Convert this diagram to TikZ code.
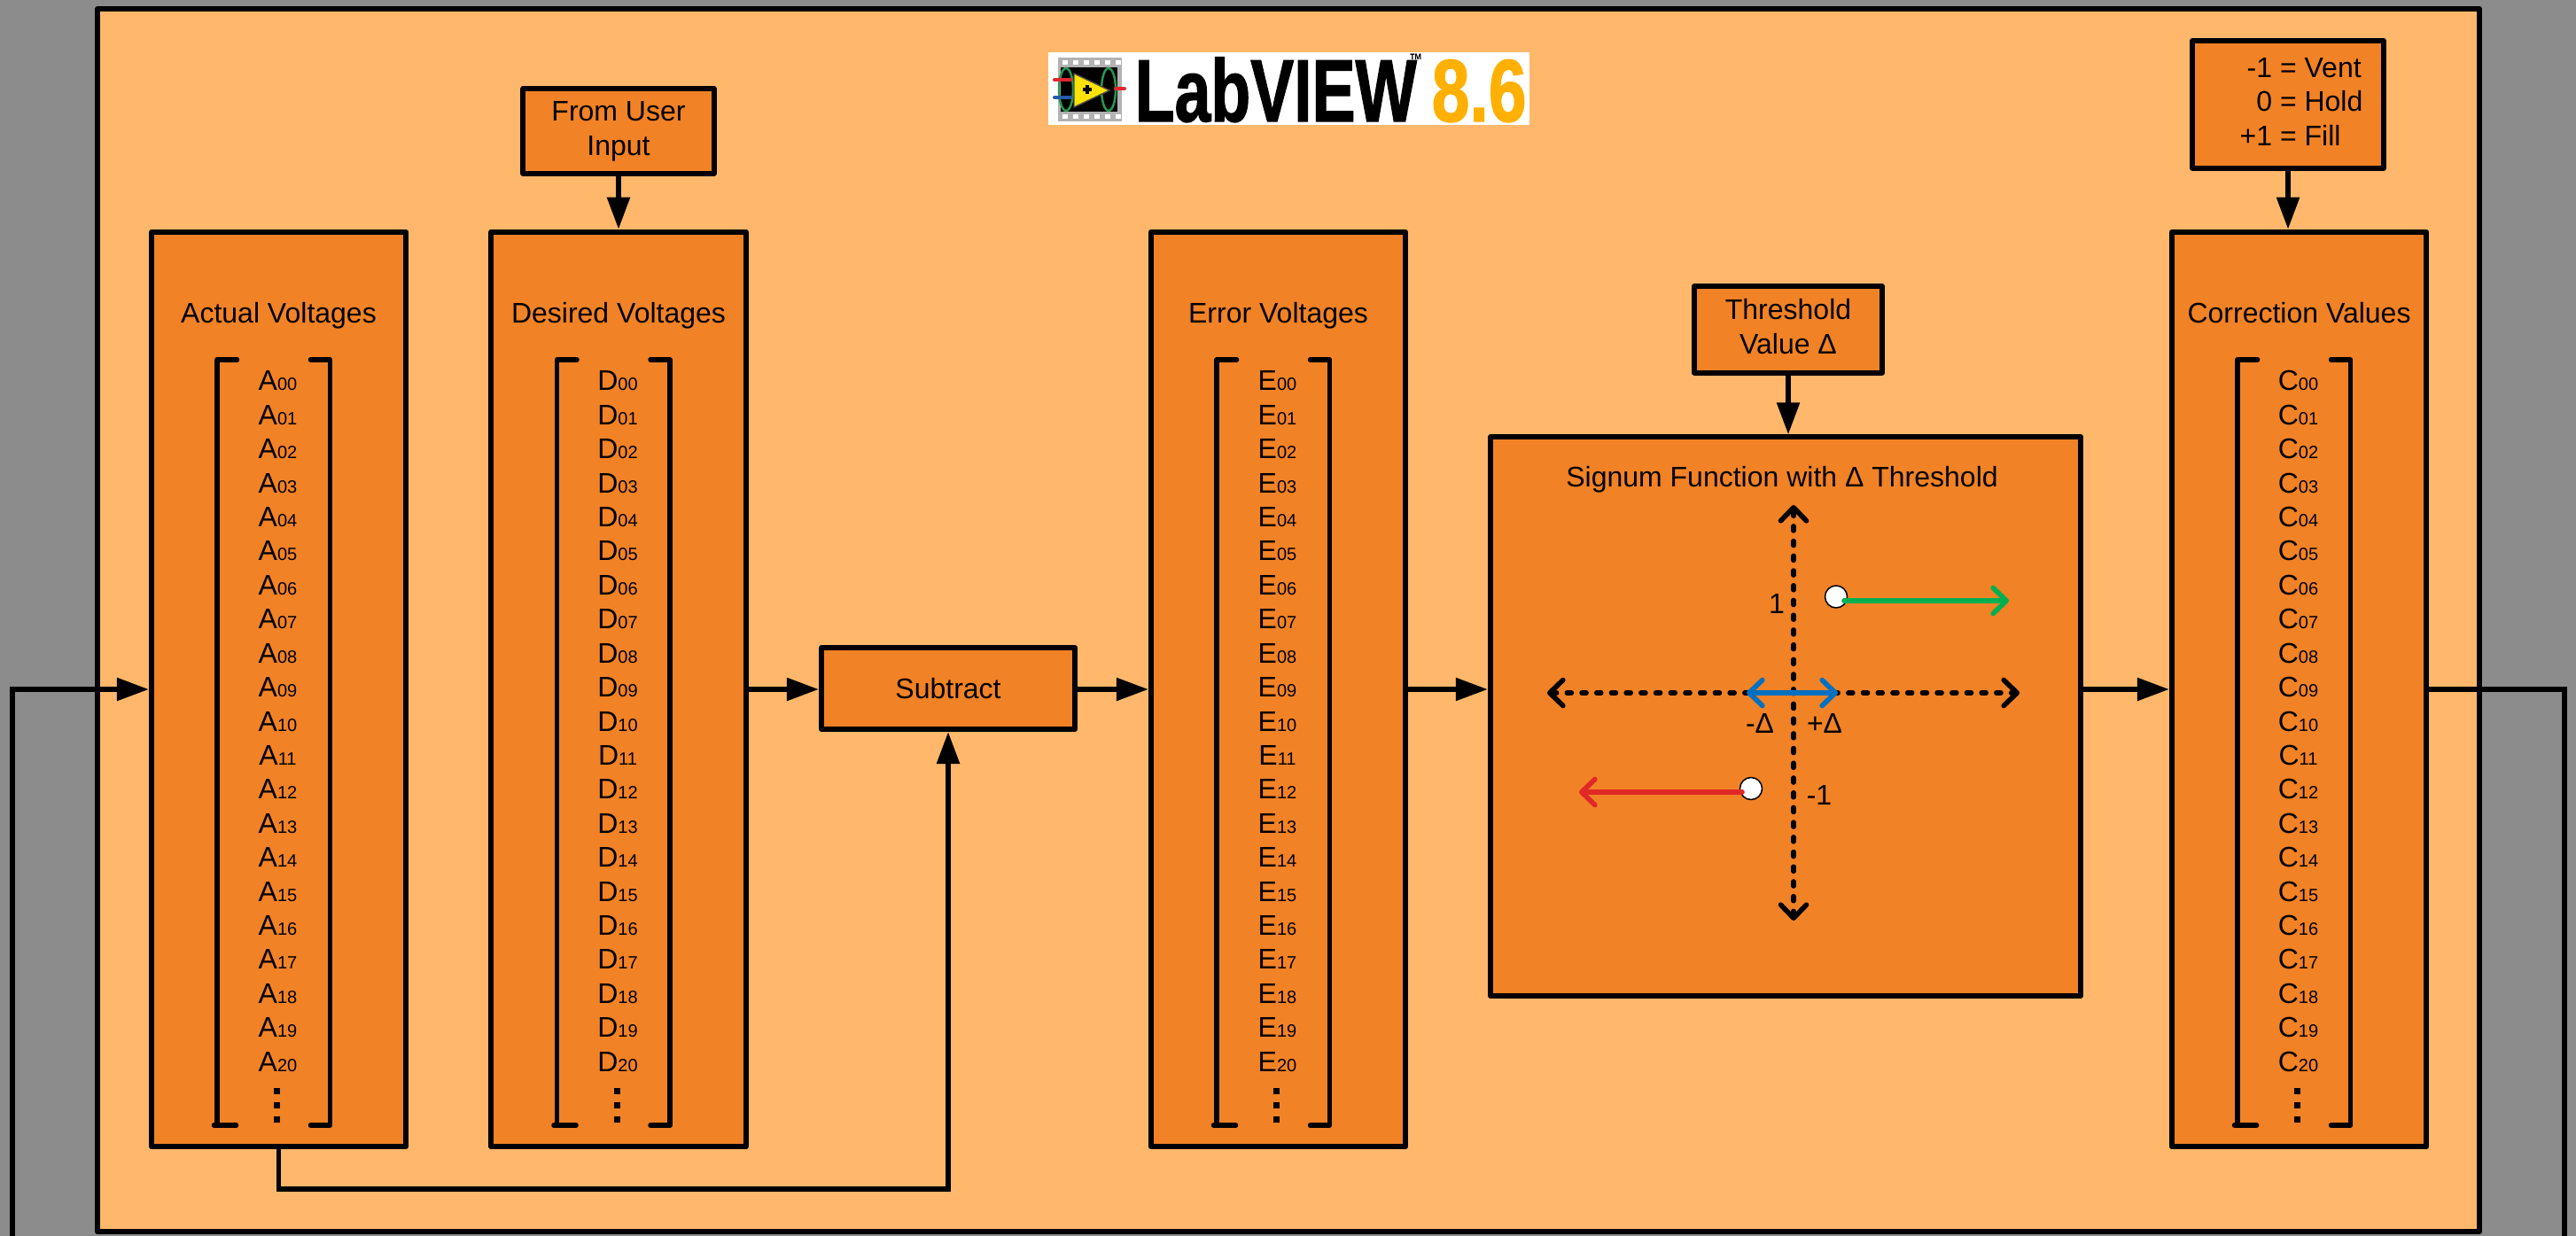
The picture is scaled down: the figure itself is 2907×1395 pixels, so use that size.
\documentclass[tikz,border=0pt]{standalone}
\usepackage{fontspec}
\setmainfont{Liberation Sans}
\newfontfamily\logofont[BoldFeatures={FakeBold=1.5}]{Liberation Sans}
\usetikzlibrary{arrows.meta}
\definecolor{backgray}{RGB}{140,140,140}
\definecolor{framefill}{RGB}{255,184,107}
\definecolor{blockfill}{RGB}{242,130,38}
\definecolor{logoamber}{RGB}{255,176,0}
\definecolor{pinred}{RGB}{225,40,45}
\definecolor{pinblue}{RGB}{40,90,170}
\definecolor{wavegreen}{RGB}{40,150,80}
\newcommand{\vecitem}[2]{#1{\fontsize{5.7}{6}\selectfont #2}}
\begin{document}
\begin{tikzpicture}[x=0.01cm,y=-0.01cm,
  every node/.style={font=\fontsize{9.1}{11}\selectfont},
  block/.style={draw,line width=0.06cm,line join=round,fill=blockfill,inner sep=0pt},
  conn/.style={line width=0.056cm,-{Triangle[length=0.36cm,width=0.25cm]}},
  plainconn/.style={line width=0.056cm},
  brack/.style={line width=0.055cm,line cap=round,line join=round},
  barb/.style={{Straight Barb[length=0.15cm,width=0.29cm,round]}-{Straight Barb[length=0.15cm,width=0.29cm,round]}},
  axisline/.style={barb,line width=0.056cm,line cap=round,dash pattern=on 0.05cm off 0.117cm},
  stepline/.style={-{Straight Barb[length=0.15cm,width=0.29cm,round]},line width=0.056cm,line cap=round},
  opendot/.style={circle,draw,line width=0.015cm,fill=white,minimum size=0.25cm,inner sep=0pt}]
  \useasboundingbox (0,0) rectangle (2907,1395);
  \fill[backgray] (0,0) rectangle (2907,1395);
  \draw[line width=0.06cm,line join=round,fill=framefill] (110,10) rectangle (2798,1390);

  \fill[white] (1183,59) rectangle (1726,141);
  \fill[gray!60] (1194,65) rectangle (1266,137);
  \foreach \hx in {1199,1211,...,1259} {
    \fill[white] (\hx,68) rectangle +(6,5);
    \fill[white] (\hx,129) rectangle +(6,5);
  }
  \fill[black] (1197,76) rectangle (1261,126);
  \draw[wavegreen,line width=0.025cm] (1203,101) ellipse (8 and 24);
  \draw[wavegreen,line width=0.025cm] (1251,101) ellipse (8 and 24);
  \fill[yellow!85!orange,draw=black!70] (1212,83) -- (1252,102) -- (1212,121) -- cycle;
  \fill[black] (1222,99) rectangle (1232,103);
  \fill[black] (1225,96) rectangle (1229,106);
  \draw[pinred,line width=0.04cm,line cap=round] (1190,90) -- (1208,90);
  \draw[pinred,line width=0.04cm,line cap=round] (1259,100) -- (1269,100);
  \draw[pinblue,line width=0.04cm,line cap=round] (1190,110) -- (1208,110);
  \node[anchor=base west,inner sep=0pt,font=\logofont\fontsize{28.4}{30}\selectfont\bfseries] (labview) at (1280,137) {\scalebox{0.735}[1]{LabVIEW}};
  \node[anchor=base west,inner sep=0pt,font=\fontsize{6}{7}\selectfont\bfseries] (trademark) at (1590,76) {\scalebox{0.7}[1]{™}};
  \node[anchor=base west,inner sep=0pt,text=logoamber,font=\logofont\fontsize{28.4}{30}\selectfont\bfseries] (version) at (1615,137) {\scalebox{0.77}[1]{8.6}};

  \foreach \col/\cx/\letter/\ttl in {act/314.5/A/Actual Voltages,des/698/D/Desired Voltages,err/1442.5/E/Error Voltages,cor/2594.5/C/Correction Values} {
    \node[block,minimum width=2.87cm,minimum height=10.32cm] (\col) at (\cx,778) {};
    \node[anchor=base,inner sep=0pt] (\col title) at (\cx,365) {\ttl};
    \draw[brack] ({\cx-47},406) -- ({\cx-69.5},406) -- ({\cx-69.5},1270);
    \draw[brack] ({\cx-73},1270) -- ({\cx-48},1270);
    \draw[brack] ({\cx+36},406) -- ({\cx+58},406) -- ({\cx+58},1270) -- ({\cx+36},1270);
    \foreach \n [count=\k from 0] in {00,01,02,03,04,05,06,07,08,09,10,11,12,13,14,15,16,17,18,19,20} {
      \node[anchor=base,inner sep=0pt] (\col\n) at ({\cx-1},{441+38.4*\k}) {\vecitem{\letter}{\n}};
    }
    \foreach \vy in {1231,1247,1263} {
      \fill ({\cx-5.5},\vy-3.5) rectangle ({\cx+1.5},\vy+3.5);
    }
  }

  \node[block,minimum width=2.15cm,minimum height=0.955cm,align=center] (user) at (698,148) {From User\\Input};
  \node[block,minimum width=2.155cm,minimum height=1.44cm] (note) at (2582,118) {\begin{tabular}{@{\hspace{0.3cm}}r@{ = }l@{}}-1&Vent\\0&Hold\\+1&Fill\end{tabular}};
  \node[block,minimum width=2.86cm,minimum height=0.92cm] (sub) at (1070,777) {Subtract};
  \node[block,minimum width=2.12cm,minimum height=0.97cm,align=center,text depth=0.07cm] (thresh) at (2018,372) {Threshold\\Value Δ};
  \node[block,minimum width=6.66cm,minimum height=6.3cm] (sign) at (2015,808.5) {};
  \node[anchor=base,inner sep=0pt] (signtitle) at (2011,550) {Signum Function with Δ Threshold};

  \coordinate (ytop) at (2024,570);
  \coordinate (ybot) at (2024,1039);
  \coordinate (xleft) at (1746,782);
  \coordinate (xright) at (2279,782);
  \coordinate (blueleft) at (1971,782);
  \coordinate (blueright) at (2074,782);
  \coordinate (greenstart) at (2081,678);
  \coordinate (greenend) at (2267,678);
  \coordinate (redstart) at (1966,894);
  \coordinate (redend) at (1782,894);
  \draw[axisline] (ybot) -- (ytop);
  \draw[axisline] (xleft) -- (xright);
  \draw[barb,line width=0.056cm,line cap=round,color={rgb,255:red,0;green,112;blue,192}] (blueleft) -- (blueright);
  \node[opendot] (updot) at (2072,673.5) {};
  \node[opendot] (downdot) at (1976,890) {};
  \draw[stepline,color={rgb,255:red,0;green,176;blue,80}] (greenstart) -- (greenend);
  \draw[stepline,color={rgb,255:red,224;green,40;blue,38}] (redstart) -- (redend);
  \node[inner sep=0pt] (plusone) at (2005,681) {1};
  \node[inner sep=0pt] (minusone) at (2053,897) {-1};
  \node[inner sep=0pt] (minusdelta) at (1986,816) {-Δ};
  \node[inner sep=0pt] (plusdelta) at (2059,816) {+Δ};

  \coordinate (fbright) at (2894,1395);
  \coordinate (fbleft) at (14,1395);
  \coordinate (fbelbow) at (2894,778);
  \coordinate (inelbow) at (14,778);
  \coordinate (subbottom) at (314.5,1342);
  \draw[conn] (user.south) -- (des.north);
  \draw[conn] (note.south) -- (note.south |- cor.north);
  \draw[conn] (thresh.south) -- (thresh.south |- sign.north);
  \draw[conn] (des.east) -- (des.east -| sub.west);
  \draw[conn] (sub.east |- err.west) -- (err.west);
  \draw[conn] (err.east) -- (err.east -| sign.west);
  \draw[conn] (sign.east |- cor.west) -- (cor.west);
  \draw[conn] (fbleft) -- (inelbow) -- (act.west);
  \draw[plainconn] (cor.east) -- (fbelbow) -- (fbright);
  \draw[conn] (act.south) -- (subbottom) -| (sub.south);
\end{tikzpicture}
\end{document}
